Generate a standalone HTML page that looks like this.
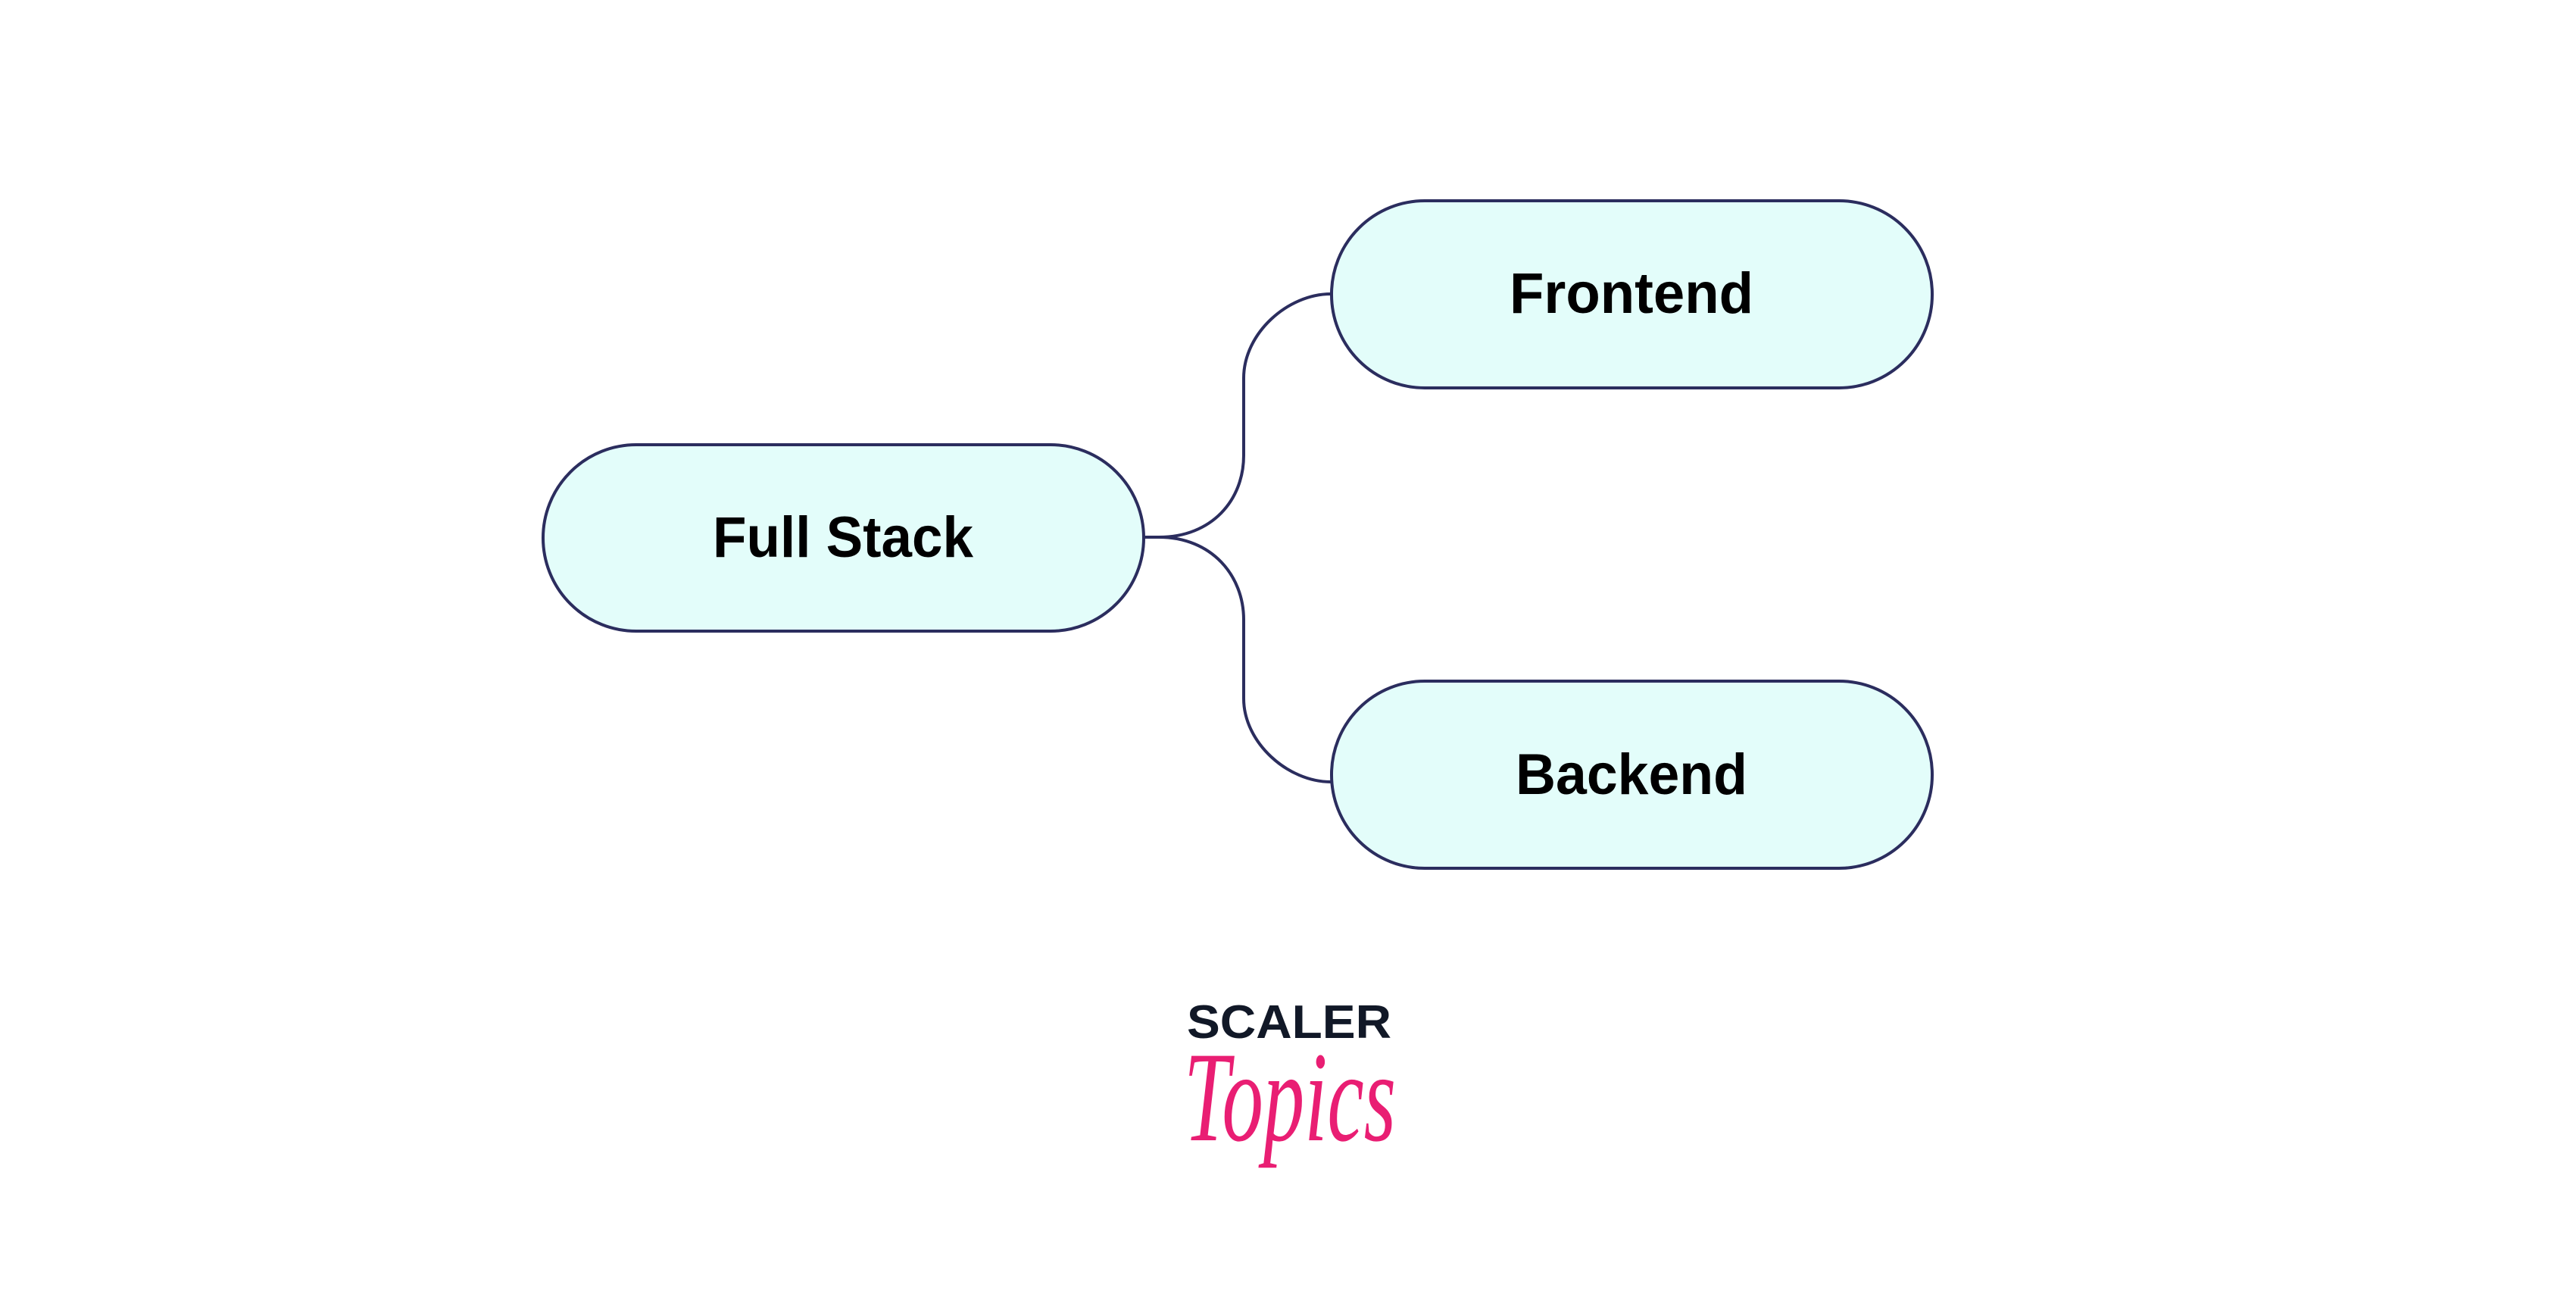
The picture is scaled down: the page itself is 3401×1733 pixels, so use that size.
<!DOCTYPE html>
<html><head><meta charset="utf-8"><style>
html,body{margin:0;padding:0;background:#fff;}
body{width:3401px;height:1733px;overflow:hidden;position:relative;}
</style></head><body>
<svg width="3401" height="1733" viewBox="0 0 3401 1733" xmlns="http://www.w3.org/2000/svg" style="position:absolute;left:0;top:0">
<g fill="none" stroke="#2b2d5e" stroke-width="4">
<path d="M1510 709 L1530 709 C1600 709 1642 660 1642 601 L1642 499 C1642 440 1700 388 1757 388"/>
<path d="M1510 709 L1530 709 C1600 709 1642 760 1642 818 L1642 922 C1642 980 1700 1032 1757 1032"/>
</g>
<g fill="#e3fdfa" stroke="#2b2d5e" stroke-width="4">
<rect x="717" y="587" width="793" height="246" rx="123" ry="123"/>
<rect x="1758" y="265" width="793" height="247" rx="123" ry="123"/>
<rect x="1758" y="899" width="793" height="247" rx="123" ry="123"/>
</g>
<g font-family="'Liberation Sans',sans-serif" font-weight="bold" font-size="76" fill="#000" text-anchor="middle">
<text x="1113" y="735" textLength="344" lengthAdjust="spacingAndGlyphs">Full Stack</text>
<text x="2154" y="413" textLength="322" lengthAdjust="spacingAndGlyphs">Frontend</text>
<text x="2154" y="1048" textLength="306" lengthAdjust="spacingAndGlyphs">Backend</text>
</g>
<text x="1702" y="1370" font-family="'Liberation Sans',sans-serif" font-weight="bold" font-size="62" fill="#111827" text-anchor="middle" textLength="270" lengthAdjust="spacingAndGlyphs">SCALER</text>
<text x="1703" y="1505" font-family="'Liberation Serif',serif" font-style="italic" font-size="170" fill="#e91e73" text-anchor="middle" textLength="280" lengthAdjust="spacingAndGlyphs">Topics</text>
</svg>
</body></html>
